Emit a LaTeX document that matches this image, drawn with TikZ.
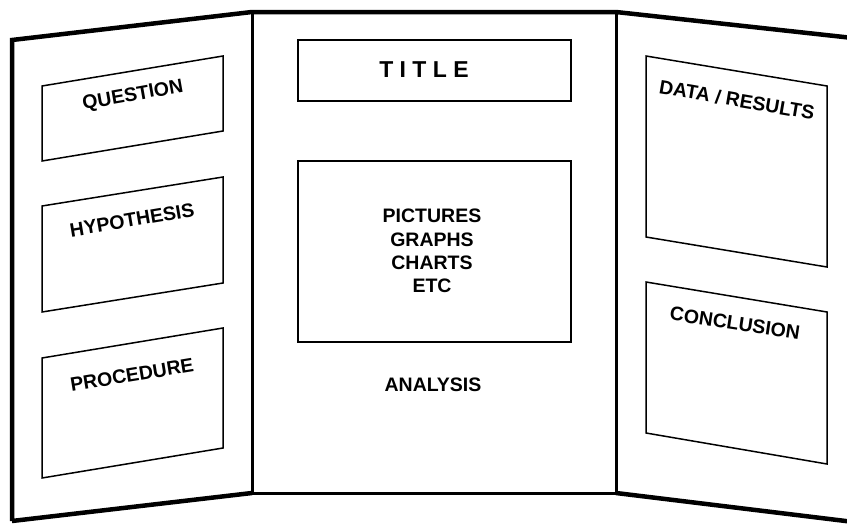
\documentclass[tikz,border=0pt]{standalone}
\usepackage{fontspec}
\setmainfont{Liberation Sans}
\begin{document}
\begin{tikzpicture}[x=1pt,y=-1pt,
  board/.style={line width=4.5pt, line join=miter, line cap=butt},
  fold/.style={line width=3pt},
  card/.style={line width=1.5pt, line join=miter},
  lbl/.style={font=\bfseries\fontsize{19.5}{23.4}\selectfont, align=center, inner sep=0pt},
  big/.style={font=\bfseries\fontsize{23}{27}\selectfont, inner sep=0pt}]
\useasboundingbox (0,0) rectangle (847,525);
\fill[white] (0,0) rectangle (847,525);

% tri-fold board outline
\begin{scope}
\clip (0,0) rectangle (847,525);
\coordinate (tl) at (12,40);
\coordinate (bl) at (12,521);
\coordinate (ftl) at (252,12);
\coordinate (fbl) at (252,493);
\coordinate (ftr) at (616,12);
\coordinate (fbr) at (616,493);
\coordinate (tr) at (862,39);
\coordinate (br) at (862,523);
\draw[board] (bl) -- (tl) -- (ftl) -- (ftr) -- (tr);
\draw[board] (bl) -- (fbl);
\draw[fold] (fbl) -- (fbr);
\draw[board] (fbr) -- (br);
\draw[fold] (ftl) -- (fbl);
\draw[fold] (ftr) -- (fbr);
\end{scope}

% left panel cards
\draw[card] (42,86) -- (223,56) -- (223,131) -- (42,161) -- cycle;
\draw[card] (42,206) -- (223,177) -- (223,283) -- (42,312) -- cycle;
\draw[card] (42,358) -- (223,328) -- (223,448) -- (42,478) -- cycle;

% centre panel cards
\draw[card] (298,40) rectangle (571,101);
\draw[card] (298,161) rectangle (571,342);

% right panel cards
\draw[card] (646,56) -- (827,86) -- (827,267) -- (646,237) -- cycle;
\draw[card] (646,282) -- (827,312) -- (827,464) -- (646,433) -- cycle;

% labels
\node[lbl, rotate=10] (question) at (133,96) {QUESTION};
\node[lbl, rotate=9.6] (hypothesis) at (132,220) {HYPOTHESIS};
\node[lbl, rotate=9.4] (procedure) at (132,375) {PROCEDURE};
\node[big] (title) at (424,70) {T I T L E};
\node[lbl] (media) at (432,251) {PICTURES\\GRAPHS\\CHARTS\\ETC};
\node[lbl] (analysis) at (433,385) {ANALYSIS};
\node[lbl, rotate=-9.8] (results) at (737,100) {DATA / RESULTS};
\node[lbl, rotate=-8.5] (conclusion) at (735,323) {CONCLUSION};
\end{tikzpicture}
\end{document}
